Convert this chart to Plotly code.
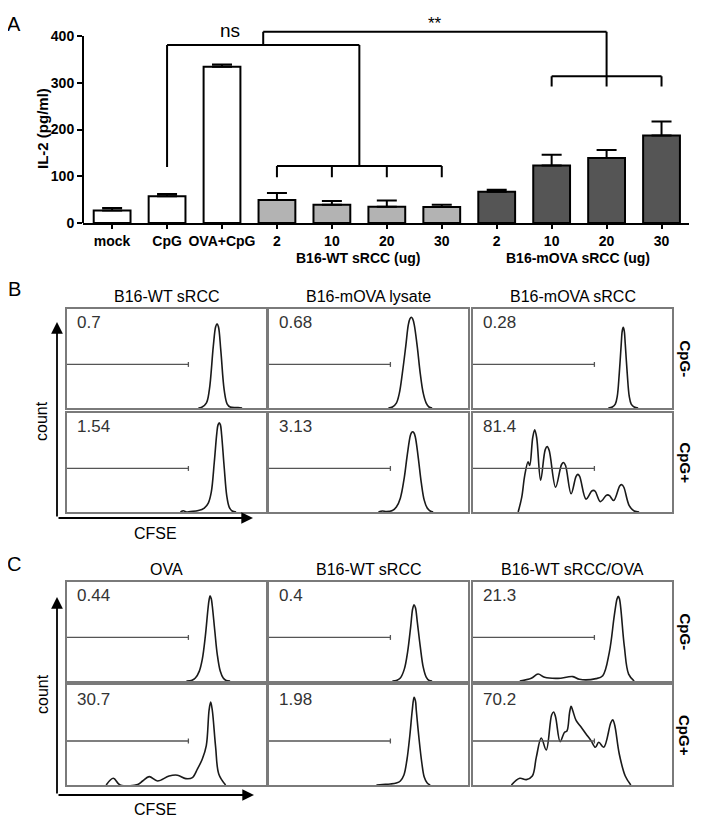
import plotly.graph_objects as go

W, H = 704, 822
OFF = 8  # page margin around the figure in the viewer
FONT = "Liberation Sans, Arial, Helvetica, sans-serif"


def px(x):
    return (x - OFF) / W


def py(y):
    return 1 - (y - OFF) / H


# ---------------- Panel A data ----------------
categories = ["mock", "CpG", "OVA+CpG", "2", "10", "20", "30", "2", "10", "20", "30"]
il2_mean = [27, 57, 334, 49, 39, 35, 34, 67, 123, 139, 187]
il2_sem = [5, 5, 5, 15, 8, 13, 5, 4, 23, 17, 30]
bar_group = ["ctrl", "ctrl", "ctrl", "wt", "wt", "wt", "wt", "mova", "mova", "mova", "mova"]
group_colors = {"ctrl": "#ffffff", "wt": "#b3b3b3", "mova": "#555555"}
group_labels = ["B16-WT sRCC (ug)", "B16-mOVA sRCC (ug)"]
y_ticks = [0, 100, 200, 300, 400]

# ---------------- Panel B / C histogram data (CFSE channel %, count % of box height) ----------------
b_wt_neg_x = [66, 67.5, 70, 71.5, 73.5, 74.7, 75.4, 76.1, 77.3, 79, 80.5, 82, 86, 88]
b_wt_neg_y = [0, 0.5, 5, 18, 62, 82, 85, 82, 58, 18, 4, 1, 0.5, 0]
b_lys_neg_x = [60, 62, 64, 65.5, 67, 68.7, 70, 70.8, 71.5, 72.2, 73, 74.5, 76, 77.5, 79, 80.4, 82]
b_lys_neg_y = [0, 1, 5, 15, 35, 62, 84, 90, 91.7, 90, 84, 62, 35, 15, 5, 1, 0]
b_src_neg_x = [68, 70, 71.5, 72.5, 73.5, 74.5, 75, 75.5, 76, 76.5, 77.5, 78.5, 79.5, 81, 83]
b_src_neg_y = [0, 1, 4, 12, 35, 65, 78, 81.5, 78, 65, 35, 12, 4, 1, 0]
b_wt_pos_x = [57, 58.5, 60, 62, 66, 69, 71, 72.5, 74, 75.3, 75.9, 76.5, 77.1, 77.7, 79, 80.3, 81.5, 83, 85]
b_wt_pos_y = [0, 1.2, 0, 0.5, 1.5, 4, 9, 20, 50, 80, 88, 90, 88, 78, 45, 16, 5, 1, 0]
b_lys_pos_x = [55, 57, 59, 62, 64, 66, 68, 69.5, 71, 71.6, 72.2, 72.8, 73.5, 75, 76.5, 78, 79.5, 81, 82.5]
b_lys_pos_y = [0, 1, 0.5, 1.5, 5, 14, 35, 58, 77, 80, 81, 80, 76, 55, 30, 12, 4, 1, 0]
b_src_pos_x = [22.7, 24.5, 26, 27.7, 28.5, 30, 31, 32, 34, 36.3, 37.3, 38.3, 41.5, 44.5, 45.5, 46.5,
               49.3, 51.8, 52.7, 53.6, 56.8, 59.6, 60.5, 61.4, 64, 66.8, 67.7, 68.6, 70.7, 73.8, 74.8,
               75.8, 78.5, 81, 83.5]
b_src_pos_y = [0, 15, 37, 50.7, 47, 75, 83, 75, 32, 63, 66, 62, 25, 48, 50, 47,
               18.4, 36, 38, 36, 13, 21, 21.8, 21, 10.5, 16.5, 17.3, 16.5, 11.6, 26.5, 27.6,
               25, 6.5, 1, 0]

c_ova_neg_x = [60, 62.5, 64.5, 66.5, 68, 69.5, 70.8, 71.4, 71.9, 72.5, 73, 74.3, 75.5, 77, 78.5, 80, 82]
c_ova_neg_y = [0, 0.5, 3, 10, 22, 45, 72, 82, 86, 83, 76, 50, 27, 10, 3, 0.5, 0]
c_wt_neg_x = [62, 64, 66, 68, 69.7, 71.2, 72.2, 72.9, 73.6, 74.5, 76, 77.5, 79, 80.5, 82]
c_wt_neg_y = [0, 0.5, 3, 12, 30, 55, 73, 77, 74, 60, 35, 14, 4, 0.5, 0]
c_mix_neg_x = [23.5, 29.3, 32.7, 36, 42.7, 50.2, 53.5, 61.8, 65.2, 68.5, 71, 72.4, 73, 73.6, 76, 78.2, 81]
c_mix_neg_y = [0, 2.7, 7, 3.7, 2.7, 4.4, 1.7, 2.4, 5.4, 29, 66, 83, 85.5, 83, 35.7, 7, 0]
c_ova_pos_x = [19.7, 23.3, 26.7, 35.5, 38, 41.3, 45.5, 51.3, 55.5, 59.7, 63, 65.5, 68, 70, 71.4, 72.2,
               73, 74.7, 76.3, 79.7]
c_ova_pos_y = [0, 6.7, 0, 0.5, 4, 8.4, 4, 9, 9.8, 6.4, 7.4, 15.8, 26, 39.4, 75, 83, 75, 37.7, 10.8, 0]
c_wt_pos_x = [54, 57, 61, 64, 66, 67.8, 69.3, 70.8, 72, 72.9, 73.6, 74, 75.3, 76.8, 78, 79.5, 81]
c_wt_pos_y = [0, 0.5, 1, 2, 4, 10, 25, 50, 75, 87.7, 84, 75, 48, 22, 8, 2, 0]
c_mix_pos_x = [19.3, 23.5, 26.8, 29.8, 31.8, 34.3, 36.8, 39.5, 40.5, 41.5, 43.8, 46, 47.2, 48.5, 49.3,
               50.2, 51.8, 54.3, 56.8, 59.3, 61.5, 63.2, 65.7, 69.2, 70.2, 71.2, 73.5, 76.5, 79.3]
c_mix_pos_y = [0, 6.7, 5.4, 9, 27.6, 47, 35, 70, 73, 68, 43.4, 52.8, 54, 72, 78.8,
               74, 64.6, 58, 51, 44.4, 37.7, 42.8, 37.7, 62, 65.3, 60, 31, 9, 0]

b_percent = ["0.7", "0.68", "0.28", "1.54", "3.13", "81.4"]
c_percent = ["0.44", "0.4", "21.3", "30.7", "1.98", "70.2"]
b_titles = ["B16-WT sRCC", "B16-mOVA lysate", "B16-mOVA sRCC"]
c_titles = ["OVA", "B16-WT sRCC", "B16-WT sRCC/OVA"]
row_labels = ["CpG-", "CpG+"]
gate_x = [0, 61]
gate_y = 44

# ---------------- Figure ----------------
fig = go.Figure()
x_idx = list(range(len(categories)))

fig.add_trace(go.Bar(
    x=x_idx, y=il2_mean, width=0.67,
    marker=dict(color=[group_colors[g] for g in bar_group], line=dict(color="black", width=2)),
    error_y=dict(type="data", symmetric=False, array=il2_sem, arrayminus=[0] * len(il2_sem),
                 color="black", thickness=2, width=10),
    xaxis="x", yaxis="y", showlegend=False, hoverinfo="skip",
))

layout = dict(
    width=W, height=H, margin=dict(l=0, r=0, t=0, b=0, autoexpand=False),
    paper_bgcolor="white", plot_bgcolor="white",
    font=dict(family=FONT, color="black"),
    showlegend=False,
)


def paper_text(x, y, text, size, bold=False, angle=0, color="black"):
    f = dict(size=size, color=color, family=FONT)
    if bold:
        f["weight"] = "bold"
    return dict(xref="paper", yref="paper", x=px(x), y=py(y), text=text, showarrow=False,
                xanchor="center", yanchor="middle", textangle=angle, font=f)


# Panel A axes
A_left, A_right, A_top, A_bottom = 83, 689, 17.3, 223
layout["xaxis"] = dict(domain=[px(A_left), px(A_right)], range=[-0.53, 10.5], anchor="y",
                       tickvals=x_idx, ticktext=categories, showline=True, linewidth=2,
                       linecolor="black", ticks="outside", ticklen=4, tickwidth=2, tickcolor="black",
                       tickfont=dict(size=14, weight="bold", family=FONT), showgrid=False, zeroline=False,
                       automargin=False)
layout["yaxis"] = dict(domain=[py(A_bottom), py(A_top)], range=[0, 440], anchor="x",
                       tickvals=y_ticks, showline=False, ticks="outside", ticklen=5, tickwidth=2,
                       tickcolor="black", tickfont=dict(size=14, weight="bold", family=FONT),
                       showgrid=False, zeroline=False, automargin=False)

shapes = []
annotations = []

# y-axis line 0..400
shapes.append(dict(type="line", xref="paper", yref="y", x0=px(A_left), x1=px(A_left), y0=0, y1=400,
                   line=dict(color="black", width=2)))

# significance brackets (data coords)
bl = dict(color="black", width=2)
seg = [
    (1, 120, 1, 381), (1, 381, 4.5, 381), (4.5, 381, 4.5, 122), (3, 122, 6, 122),
    (3, 122, 3, 98), (4, 122, 4, 98), (5, 122, 5, 98), (6, 122, 6, 98),
    (2.75, 381, 2.75, 409), (2.75, 409, 9, 409), (9, 409, 9, 292), (8, 314, 10, 314),
    (8, 314, 8, 292), (10, 314, 10, 292),
]
for x0, y0, x1, y1 in seg:
    shapes.append(dict(type="line", xref="x", yref="y", x0=x0, y0=y0, x1=x1, y1=y1, line=bl))
annotations.append(dict(xref="x", yref="y", x=2.15, y=384, text="ns", showarrow=False,
                        xanchor="center", yanchor="bottom", font=dict(size=19, family=FONT)))
annotations.append(dict(xref="x", yref="y", x=5.88, y=426, text="**", showarrow=False,
                        xanchor="center", yanchor="middle", font=dict(size=17, family=FONT)))
annotations.append(paper_text(358, 258, group_labels[0], 14, bold=True))
annotations.append(paper_text(578, 258, group_labels[1], 14, bold=True))
annotations.append(paper_text(43, 129, "IL-2 (pg/ml)", 15, bold=True, angle=-90))

# panel letters
for letter, lx, ly in [("A", 14, 24), ("B", 14, 289), ("C", 14, 564)]:
    annotations.append(paper_text(lx, ly, letter, 20))

# histogram panels
cols_px = [(67, 266), (269, 468), (473, 672)]
B_rows = [(309, 408), (413, 512)]
C_rows = [(582, 681), (685, 785)]

B_series = [(b_wt_neg_x, b_wt_neg_y), (b_lys_neg_x, b_lys_neg_y), (b_src_neg_x, b_src_neg_y),
            (b_wt_pos_x, b_wt_pos_y), (b_lys_pos_x, b_lys_pos_y), (b_src_pos_x, b_src_pos_y)]
C_series = [(c_ova_neg_x, c_ova_neg_y), (c_wt_neg_x, c_wt_neg_y), (c_mix_neg_x, c_mix_neg_y),
            (c_ova_pos_x, c_ova_pos_y), (c_wt_pos_x, c_wt_pos_y), (c_mix_pos_x, c_mix_pos_y)]

frame = "#7a7a7a"
ax_i = 2
for rows, series, percents, titles, title_y, arrow in [
    (B_rows, B_series, b_percent, b_titles, 296, (57, 322, 518, 253, 41, 421, 155, 533)),
    (C_rows, C_series, c_percent, c_titles, 569, (57, 597, 795, 254, 42, 694, 155, 809)),
]:
    k = 0
    for r, (ry0, ry1) in enumerate(rows):
        for c, (cx0, cx1) in enumerate(cols_px):
            xs, ys = series[k]
            xa, ya = "x%d" % ax_i, "y%d" % ax_i
            common = dict(range=[0, 100], showline=True, mirror=True, linecolor=frame, linewidth=1.5,
                          showticklabels=False, ticks="", showgrid=False, zeroline=False, automargin=False)
            layout["xaxis%d" % ax_i] = dict(domain=[px(cx0), px(cx1)], anchor=ya, **common)
            layout["yaxis%d" % ax_i] = dict(domain=[py(ry1), py(ry0)], anchor=xa, **common)
            fig.add_trace(go.Scatter(x=xs, y=ys, mode="lines", xaxis=xa, yaxis=ya,
                                     line=dict(color="#1a1a1a", width=1.6, shape="spline", smoothing=1.0),
                                     showlegend=False, hoverinfo="skip"))
            gl = dict(color="#555555", width=1.3)
            shapes.append(dict(type="line", xref=xa, yref=ya, x0=gate_x[0], x1=gate_x[1],
                               y0=gate_y, y1=gate_y, line=gl))
            shapes.append(dict(type="line", xref=xa, yref=ya, x0=gate_x[1], x1=gate_x[1],
                               y0=gate_y - 2.5, y1=gate_y + 2.5, line=gl))
            annotations.append(dict(xref=xa, yref=ya, x=4, y=86, text=percents[k], showarrow=False,
                                    xanchor="left", yanchor="middle",
                                    font=dict(size=17, color="#333333", family=FONT)))
            k += 1
            ax_i += 1
        annotations.append(paper_text(685, (ry0 + ry1) / 2, row_labels[r], 15, bold=True, angle=90))
    for c, (cx0, cx1) in enumerate(cols_px):
        annotations.append(paper_text((cx0 + cx1) / 2, title_y, titles[c], 16))
    axx, top, bot, right, cnt_x, cnt_y, cf_x, cf_y = arrow
    annotations.append(dict(xref="paper", yref="paper", x=px(axx), y=py(top), text="", showarrow=True,
                            ax=0, ay=bot - top, arrowhead=2, arrowsize=1.3, arrowwidth=1.8,
                            arrowcolor="black", standoff=0, startstandoff=0))
    annotations.append(dict(xref="paper", yref="paper", x=px(right), y=py(bot), text="", showarrow=True,
                            ax=-(right - axx), ay=0, arrowhead=2, arrowsize=1.3, arrowwidth=1.8,
                            arrowcolor="black", standoff=0, startstandoff=0))
    annotations.append(paper_text(cnt_x, cnt_y, "count", 16, angle=-90))
    annotations.append(paper_text(cf_x, cf_y, "CFSE", 16))

layout["shapes"] = shapes
layout["annotations"] = annotations
fig.update_layout(**layout)
fig.write_html("out.html")
